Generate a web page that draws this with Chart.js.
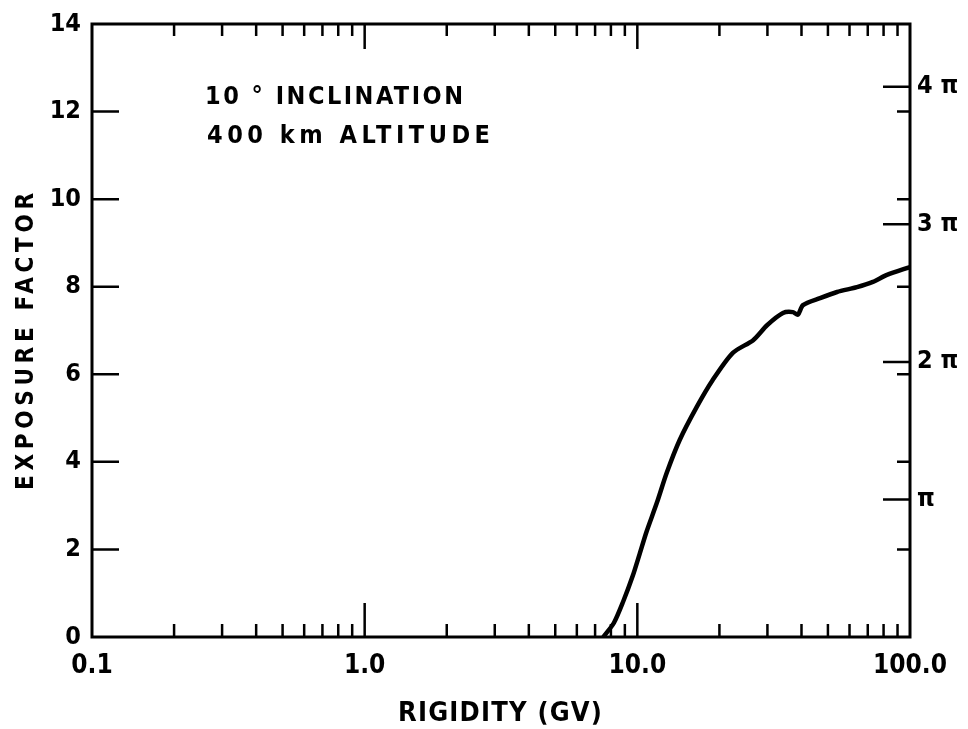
<!DOCTYPE html>
<html>
<head>
<meta charset="utf-8">
<title>Exposure factor vs rigidity</title>
<script src="https://cdn.jsdelivr.net/npm/chart.js@4.4.1/dist/chart.umd.min.js"></script>
<style>
  html, body { margin: 0; padding: 0; background: #fff; }
  #wrap { width: 968px; height: 729px; }
</style>
</head>
<body>
<div id="wrap"><canvas id="exposureChart" width="968" height="729"></canvas></div>
<script>
// Exposure factor vs cutoff rigidity, 10 deg orbit at 400 km

const rigidityGV = [7.5, 8.2, 8.86, 9.6, 10.2, 10.8, 11.8, 12.8, 14.3, 16.5, 18.9, 22.4,
    26.6, 29.9, 34.2, 37.2, 38.8, 40.5, 46.8, 54.0, 63.9, 73.1, 82.3, 100];
const exposureFactor = [0, 0.32, 0.8, 1.38, 1.9, 2.4, 3.07, 3.74, 4.5, 5.25, 5.87, 6.49,
    6.78, 7.12, 7.40, 7.42, 7.36, 7.58, 7.74, 7.88, 7.99, 8.11, 8.27, 8.45];

// axis ticks
const decades = [0.1, 1, 10, 100];
const decadeLabels = ['0.1', '1.0', '10.0', '100.0'];
const minorMult = [2, 3, 4, 5, 6, 7, 8, 9];
const piTicks = [Math.PI, 2 * Math.PI, 3 * Math.PI, 4 * Math.PI];
const piLabels = ['π', '2 π', '3 π', '4 π'];

const FONT = "'DejaVu Sans Condensed', 'DejaVu Sans', sans-serif";

// every tick value along the rigidity axis (decades + 2..9 in between)
const xTickValues = [];
decades.forEach((d, i) => {
    xTickValues.push(d);
    if (i < decades.length - 1) minorMult.forEach(m => xTickValues.push(+(d * m).toPrecision(3)));
});

// draws text stretched to a given width with letter spacing
function spacedText(ctx, text, x, y, width) {
    ctx.letterSpacing = '0px';
    const natural = ctx.measureText(text).width;
    const sp = (width - natural) / Math.max(text.length - 1, 1);
    ctx.letterSpacing = sp.toFixed(2) + 'px';
    ctx.fillText(text, x, y);
    ctx.letterSpacing = '0px';
}

const frameAndTicks = {
    id: 'frameAndTicks',
    afterDatasetsDraw(chart) {
        const { ctx, chartArea: a, scales } = chart;
        ctx.save();
        ctx.strokeStyle = '#000';
        ctx.lineCap = 'butt';

        // tick marks point inwards
        ctx.lineWidth = 2.5;
        ctx.beginPath();
        scales.x.ticks.forEach(t => {
            const px = scales.x.getPixelForValue(t.value);
            if (px <= a.left + 1 || px >= a.right - 1) return;
            const major = decades.includes(t.value);
            const lb = major ? 34 : 13;
            const lt = major ? 25 : 12;
            ctx.moveTo(px, a.bottom); ctx.lineTo(px, a.bottom - lb);
            ctx.moveTo(px, a.top); ctx.lineTo(px, a.top + lt);
        });
        scales.y.ticks.forEach(t => {
            if (t.value <= 0 || t.value >= 14) return;
            const py = scales.y.getPixelForValue(t.value);
            ctx.moveTo(a.left, py); ctx.lineTo(a.left + 27, py);
            ctx.moveTo(a.right, py); ctx.lineTo(a.right - 13, py);
        });
        scales.yPi.ticks.forEach(t => {
            const py = scales.yPi.getPixelForValue(t.value);
            ctx.moveTo(a.right, py); ctx.lineTo(a.right - 27, py);
        });
        ctx.stroke();

        // frame
        ctx.lineWidth = 3;
        ctx.strokeRect(a.left, a.top, a.right - a.left, a.bottom - a.top);

        // titles and note
        ctx.fillStyle = '#000';
        ctx.textBaseline = 'alphabetic';
        ctx.textAlign = 'left';
        ctx.font = 'bold 25px ' + FONT;
        spacedText(ctx, '10 ° INCLINATION', 205, 104, 258);
        spacedText(ctx, '400 km ALTITUDE', 207, 143, 283);

        ctx.font = 'bold 27px ' + FONT;
        spacedText(ctx, 'RIGIDITY (GV)', 398, 721, 204);

        ctx.translate(33, 490);
        ctx.rotate(-Math.PI / 2);
        ctx.font = 'bold 24px ' + FONT;
        spacedText(ctx, 'EXPOSURE FACTOR', 0, 0, 297);
        ctx.restore();
    }
};

new Chart(document.getElementById('exposureChart'), {
    type: 'line',
    data: {
        datasets: [{
            data: rigidityGV.map((r, i) => ({ x: r, y: exposureFactor[i] })),
            borderColor: '#000',
            borderWidth: 4.5,
            pointRadius: 0,
            tension: 0.25,
            fill: false
        }]
    },
    options: {
        responsive: false,
        animation: false,
        events: [],
        layout: { padding: { top: 24, left: 0, right: 0, bottom: 0 } },
        plugins: { legend: { display: false }, tooltip: { enabled: false } },
        scales: {
            x: {
                type: 'logarithmic',
                min: 0.1,
                max: 100,
                position: 'bottom',
                grid: { display: false, drawTicks: false },
                border: { display: false },
                afterBuildTicks: s => { s.ticks = xTickValues.map(v => ({ value: v })); },
                afterFit: s => { s.height = 92; },
                ticks: {
                    autoSkip: false,
                    maxRotation: 0,
                    padding: 14,
                    color: '#000',
                    font: { family: FONT, size: 26, weight: 'bold' },
                    callback: v => {
                        const i = decades.indexOf(v);
                        return i >= 0 ? decadeLabels[i] : '';
                    }
                }
            },
            y: {
                type: 'linear',
                min: 0,
                max: 14,
                position: 'left',
                grid: { display: false, drawTicks: false },
                border: { display: false },
                afterFit: s => { s.width = 92; },
                ticks: {
                    stepSize: 2,
                    padding: 11,
                    color: '#000',
                    font: { family: FONT, size: 25, weight: 'bold', lineHeight: 1 }
                }
            },
            yPi: {
                type: 'linear',
                min: 0,
                max: 14,
                position: 'right',
                grid: { display: false, drawTicks: false },
                border: { display: false },
                afterBuildTicks: s => { s.ticks = piTicks.map(v => ({ value: v })); },
                afterFit: s => { s.width = 58; },
                ticks: {
                    padding: 7,
                    color: '#000',
                    font: { family: FONT, size: 25, weight: 'bold', lineHeight: 1 },
                    callback: (v, i) => piLabels[i]
                }
            }
        }
    },
    plugins: [frameAndTicks]
});
</script>
</body>
</html>
